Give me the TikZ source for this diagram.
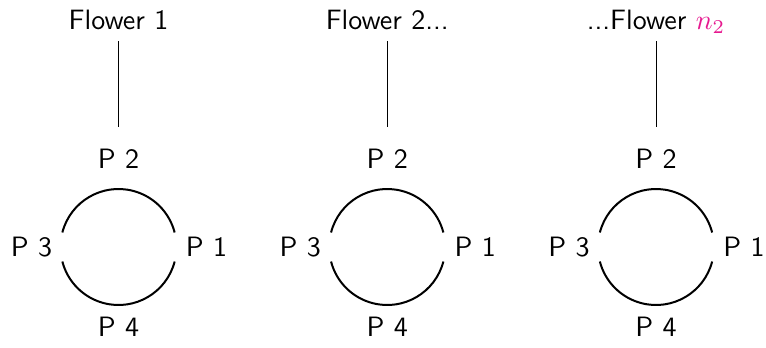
\documentclass[tikz,border=0pt]{standalone}
\usepackage{graphicx}
\definecolor{flowerpink}{HTML}{E6198F}
\newcommand{\bigtxt}[1]{\scalebox{2.1}{#1}}
\tikzset{
  lbl/.style={font=\fontsize{10}{12}\selectfont\sffamily, inner sep=0pt, anchor=base},
  stem/.style={line width=0.6pt},
  petal/.style={line width=1.5pt},
}
\begin{document}
\begin{tikzpicture}[x=0.75pt,y=-0.75pt]
\useasboundingbox (0,0) rectangle (766,347);
\foreach \i/\cx/\txt in {1/118.5/{Flower 1}, 2/387.2/{Flower 2...}, 3/656/{...Flower \textcolor{flowerpink}{$n_2$}}}{
  \node[lbl] (f\i) at (\cx,29.7) {\bigtxt{\txt}};
  \coordinate (t\i) at (\cx,41);
  \coordinate (b\i) at (\cx,127);
  \draw[stem] (t\i) -- (b\i);
  \coordinate (c\i) at (\cx,247);
  \node[lbl] (ptwo\i) at (\cx,168.3) {\bigtxt{P 2}};
  \node[lbl] (pfour\i) at (\cx,336.7) {\bigtxt{P 4}};
  \node[lbl] (pthree\i) at (\cx-87,256.7) {\bigtxt{P 3}};
  \node[lbl] (pone\i) at (\cx+88,256.7) {\bigtxt{P 1}};
  \draw[petal] ([shift={(14.5:58)}]c\i) arc[start angle=14.5,end angle=165.5,radius=58];
  \draw[petal] ([shift={(194.5:58)}]c\i) arc[start angle=194.5,end angle=345.5,radius=58];
}
\end{tikzpicture}
\end{document}
